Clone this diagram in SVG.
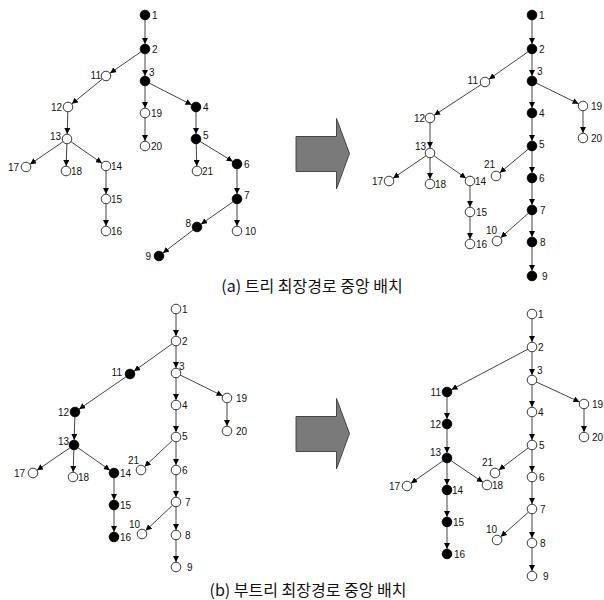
<svg xmlns="http://www.w3.org/2000/svg" width="604" height="600" viewBox="0 0 604 600">
<style>
  .bg { fill: #ffffff; }
  .edge { stroke: #444; stroke-width: 1; fill: none; marker-end: url(#head); }
  .node circle { stroke: #222; stroke-width: 0.9; fill: #ffffff; }
  .node.on circle { fill: #000000; stroke: #000000; }
  .node text { font-family: "Liberation Sans Narrow", "Liberation Sans", Arial, sans-serif; font-size: 10px; fill: #111; }
  .node text.l { text-anchor: end; }
  .caption { font-family: "Noto Sans CJK KR", "Liberation Sans", sans-serif; font-size: 16px; fill: #111; text-anchor: middle; }
  .bigarrow { fill: #7a7a7a; stroke: #3a3a3a; stroke-width: 0.9; }
</style>
<defs>
  <marker id="head" markerUnits="userSpaceOnUse" viewBox="0 0 12 6" refX="11" refY="3" markerWidth="12" markerHeight="6" orient="auto">
    <path d="M0,0 L6,3 L0,6 z" fill="#000"/>
  </marker>
</defs>
<rect class="bg" x="0" y="0" width="604" height="600"/>

<!-- connectors -->
<g id="edges">
  <!-- (a) left tree -->
  <line class="edge" x1="145" y1="15" x2="145" y2="49"/>
  <line class="edge" x1="145" y1="49" x2="106" y2="76"/>
  <line class="edge" x1="145" y1="49" x2="145" y2="81"/>
  <line class="edge" x1="106" y1="76" x2="68" y2="107"/>
  <line class="edge" x1="145" y1="81" x2="145" y2="113"/>
  <line class="edge" x1="145" y1="81" x2="196" y2="107"/>
  <line class="edge" x1="68" y1="107" x2="67" y2="139"/>
  <line class="edge" x1="145" y1="113" x2="145" y2="146"/>
  <line class="edge" x1="196" y1="107" x2="196" y2="139"/>
  <line class="edge" x1="67" y1="139" x2="26" y2="167"/>
  <line class="edge" x1="67" y1="139" x2="66" y2="171"/>
  <line class="edge" x1="67" y1="139" x2="106" y2="166"/>
  <line class="edge" x1="196" y1="139" x2="197" y2="171"/>
  <line class="edge" x1="196" y1="139" x2="237" y2="164"/>
  <line class="edge" x1="106" y1="166" x2="106" y2="199"/>
  <line class="edge" x1="237" y1="164" x2="237" y2="199"/>
  <line class="edge" x1="106" y1="199" x2="106" y2="231"/>
  <line class="edge" x1="237" y1="199" x2="197" y2="227"/>
  <line class="edge" x1="237" y1="199" x2="237" y2="231"/>
  <line class="edge" x1="197" y1="227" x2="159" y2="256"/>
  <!-- (a) right tree -->
  <line class="edge" x1="532" y1="15" x2="532" y2="49"/>
  <line class="edge" x1="532" y1="49" x2="485" y2="82"/>
  <line class="edge" x1="532" y1="49" x2="532" y2="81"/>
  <line class="edge" x1="532" y1="81" x2="583" y2="106"/>
  <line class="edge" x1="532" y1="81" x2="532" y2="113"/>
  <line class="edge" x1="485" y1="82" x2="430" y2="118"/>
  <line class="edge" x1="583" y1="106" x2="583" y2="138"/>
  <line class="edge" x1="532" y1="113" x2="532" y2="146"/>
  <line class="edge" x1="430" y1="118" x2="430" y2="153"/>
  <line class="edge" x1="532" y1="146" x2="496" y2="176"/>
  <line class="edge" x1="532" y1="146" x2="532" y2="178"/>
  <line class="edge" x1="430" y1="153" x2="389" y2="181"/>
  <line class="edge" x1="430" y1="153" x2="430" y2="184"/>
  <line class="edge" x1="430" y1="153" x2="470" y2="181"/>
  <line class="edge" x1="470" y1="181" x2="470" y2="212"/>
  <line class="edge" x1="532" y1="178" x2="532" y2="210"/>
  <line class="edge" x1="532" y1="210" x2="497" y2="241"/>
  <line class="edge" x1="532" y1="210" x2="532" y2="242"/>
  <line class="edge" x1="470" y1="212" x2="470" y2="244"/>
  <line class="edge" x1="532" y1="242" x2="532" y2="276"/>
  <!-- (b) left tree -->
  <line class="edge" x1="176" y1="309" x2="176" y2="341"/>
  <line class="edge" x1="176" y1="341" x2="130" y2="374"/>
  <line class="edge" x1="176" y1="341" x2="176" y2="373"/>
  <line class="edge" x1="176" y1="373" x2="227" y2="398"/>
  <line class="edge" x1="176" y1="373" x2="176" y2="405"/>
  <line class="edge" x1="130" y1="374" x2="75" y2="412"/>
  <line class="edge" x1="227" y1="398" x2="227" y2="431"/>
  <line class="edge" x1="176" y1="405" x2="176" y2="437"/>
  <line class="edge" x1="75" y1="412" x2="74" y2="445"/>
  <line class="edge" x1="176" y1="437" x2="141" y2="470"/>
  <line class="edge" x1="176" y1="437" x2="176" y2="470"/>
  <line class="edge" x1="74" y1="445" x2="33" y2="473"/>
  <line class="edge" x1="74" y1="445" x2="73" y2="477"/>
  <line class="edge" x1="74" y1="445" x2="114" y2="473"/>
  <line class="edge" x1="114" y1="473" x2="114" y2="505"/>
  <line class="edge" x1="176" y1="470" x2="176" y2="502"/>
  <line class="edge" x1="176" y1="502" x2="142" y2="534"/>
  <line class="edge" x1="176" y1="502" x2="176" y2="535"/>
  <line class="edge" x1="114" y1="505" x2="114" y2="537"/>
  <line class="edge" x1="176" y1="535" x2="176" y2="567"/>
  <!-- (b) right tree -->
  <line class="edge" x1="532" y1="314" x2="532" y2="347"/>
  <line class="edge" x1="532" y1="347" x2="447" y2="392"/>
  <line class="edge" x1="532" y1="347" x2="532" y2="380"/>
  <line class="edge" x1="532" y1="380" x2="584" y2="404"/>
  <line class="edge" x1="532" y1="380" x2="532" y2="412"/>
  <line class="edge" x1="447" y1="392" x2="447" y2="424"/>
  <line class="edge" x1="584" y1="404" x2="584" y2="437"/>
  <line class="edge" x1="532" y1="412" x2="532" y2="445"/>
  <line class="edge" x1="447" y1="424" x2="447" y2="458"/>
  <line class="edge" x1="532" y1="445" x2="495" y2="473"/>
  <line class="edge" x1="532" y1="445" x2="532" y2="477"/>
  <line class="edge" x1="447" y1="458" x2="407" y2="486"/>
  <line class="edge" x1="447" y1="458" x2="447" y2="490"/>
  <line class="edge" x1="447" y1="458" x2="487" y2="485"/>
  <line class="edge" x1="447" y1="490" x2="447" y2="522"/>
  <line class="edge" x1="532" y1="477" x2="532" y2="509"/>
  <line class="edge" x1="532" y1="509" x2="497" y2="540"/>
  <line class="edge" x1="532" y1="509" x2="532" y2="543"/>
  <line class="edge" x1="447" y1="522" x2="447" y2="554"/>
  <line class="edge" x1="532" y1="543" x2="532" y2="576"/>
</g>

<!-- (a) left tree nodes -->
<g id="a1-n1" class="node on"><circle cx="145" cy="15" r="4.8"/><text x="152" y="18.5">1</text></g>
<g id="a1-n2" class="node on"><circle cx="145" cy="49" r="4.8"/><text x="152" y="52.5">2</text></g>
<g id="a1-n3" class="node on"><circle cx="145" cy="81" r="4.8"/><text x="149" y="75.5">3</text></g>
<g id="a1-n11" class="node"><circle cx="106" cy="76" r="4.8"/><text class="l" x="101" y="79">11</text></g>
<g id="a1-n12" class="node"><circle cx="68" cy="107" r="4.8"/><text class="l" x="62" y="110.5">12</text></g>
<g id="a1-n19" class="node"><circle cx="145" cy="113" r="4.8"/><text x="151" y="116.5">19</text></g>
<g id="a1-n4" class="node on"><circle cx="196" cy="107" r="4.8"/><text x="203" y="110.5">4</text></g>
<g id="a1-n13" class="node"><circle cx="67" cy="139" r="4.8"/><text class="l" x="61" y="140">13</text></g>
<g id="a1-n20" class="node"><circle cx="145" cy="146" r="4.8"/><text x="151" y="149.5">20</text></g>
<g id="a1-n5" class="node on"><circle cx="196" cy="139" r="4.8"/><text x="203" y="138.5">5</text></g>
<g id="a1-n17" class="node"><circle cx="26" cy="167" r="4.8"/><text class="l" x="19" y="170.5">17</text></g>
<g id="a1-n18" class="node"><circle cx="66" cy="171" r="4.8"/><text x="71" y="174.5">18</text></g>
<g id="a1-n14" class="node"><circle cx="106" cy="166" r="4.8"/><text x="111" y="169.5">14</text></g>
<g id="a1-n21" class="node"><circle cx="197" cy="171" r="4.8"/><text x="202" y="174.5">21</text></g>
<g id="a1-n6" class="node on"><circle cx="237" cy="164" r="4.8"/><text x="244" y="167.5">6</text></g>
<g id="a1-n15" class="node"><circle cx="106" cy="199" r="4.8"/><text x="111" y="202.5">15</text></g>
<g id="a1-n7" class="node on"><circle cx="237" cy="199" r="4.8"/><text x="244" y="198.5">7</text></g>
<g id="a1-n16" class="node"><circle cx="106" cy="231" r="4.8"/><text x="111" y="234.5">16</text></g>
<g id="a1-n8" class="node on"><circle cx="197" cy="227" r="4.8"/><text class="l" x="191" y="226.5">8</text></g>
<g id="a1-n10" class="node"><circle cx="237" cy="231" r="4.8"/><text x="245" y="234.5">10</text></g>
<g id="a1-n9" class="node on"><circle cx="159" cy="256" r="4.8"/><text class="l" x="151" y="259.5">9</text></g>

<!-- (a) right tree nodes -->
<g id="a2-n1" class="node on"><circle cx="532" cy="15" r="4.8"/><text x="539" y="18.5">1</text></g>
<g id="a2-n2" class="node on"><circle cx="532" cy="49" r="4.8"/><text x="539" y="52.5">2</text></g>
<g id="a2-n3" class="node on"><circle cx="532" cy="81" r="4.8"/><text x="537" y="74.5">3</text></g>
<g id="a2-n11" class="node"><circle cx="485" cy="82" r="4.8"/><text class="l" x="478" y="83.5">11</text></g>
<g id="a2-n19" class="node"><circle cx="583" cy="106" r="4.8"/><text x="591" y="109.5">19</text></g>
<g id="a2-n4" class="node on"><circle cx="532" cy="113" r="4.8"/><text x="539" y="116.5">4</text></g>
<g id="a2-n12" class="node"><circle cx="430" cy="118" r="4.8"/><text class="l" x="425" y="121.5">12</text></g>
<g id="a2-n20" class="node"><circle cx="583" cy="138" r="4.8"/><text x="591" y="141.5">20</text></g>
<g id="a2-n5" class="node on"><circle cx="532" cy="146" r="4.8"/><text x="539" y="147.5">5</text></g>
<g id="a2-n13" class="node"><circle cx="430" cy="153" r="4.8"/><text class="l" x="426" y="149.5">13</text></g>
<g id="a2-n21" class="node"><circle cx="496" cy="176" r="4.8"/><text class="l" x="495" y="167.5">21</text></g>
<g id="a2-n6" class="node on"><circle cx="532" cy="178" r="4.8"/><text x="539" y="181.5">6</text></g>
<g id="a2-n17" class="node"><circle cx="389" cy="181" r="4.8"/><text class="l" x="383" y="184.5">17</text></g>
<g id="a2-n18" class="node"><circle cx="430" cy="184" r="4.8"/><text x="435" y="187.5">18</text></g>
<g id="a2-n14" class="node"><circle cx="470" cy="181" r="4.8"/><text x="475" y="184.5">14</text></g>
<g id="a2-n15" class="node"><circle cx="470" cy="212" r="4.8"/><text x="476" y="215.5">15</text></g>
<g id="a2-n7" class="node on"><circle cx="532" cy="210" r="4.8"/><text x="540" y="213.5">7</text></g>
<g id="a2-n10" class="node"><circle cx="497" cy="241" r="4.8"/><text class="l" x="497" y="233.5">10</text></g>
<g id="a2-n8" class="node on"><circle cx="532" cy="242" r="4.8"/><text x="540" y="245.5">8</text></g>
<g id="a2-n16" class="node"><circle cx="470" cy="244" r="4.8"/><text x="476" y="247.5">16</text></g>
<g id="a2-n9" class="node on"><circle cx="532" cy="276" r="4.8"/><text x="542" y="279.5">9</text></g>

<!-- (b) left tree nodes -->
<g id="b1-n1" class="node"><circle cx="176" cy="309" r="4.8"/><text x="182" y="312.5">1</text></g>
<g id="b1-n2" class="node"><circle cx="176" cy="341" r="4.8"/><text x="182" y="344.5">2</text></g>
<g id="b1-n3" class="node"><circle cx="176" cy="373" r="4.8"/><text x="179" y="369.5">3</text></g>
<g id="b1-n11" class="node on"><circle cx="130" cy="374" r="4.8"/><text class="l" x="122" y="375.5">11</text></g>
<g id="b1-n19" class="node"><circle cx="227" cy="398" r="4.8"/><text x="236" y="401.5">19</text></g>
<g id="b1-n4" class="node"><circle cx="176" cy="405" r="4.8"/><text x="182" y="408.5">4</text></g>
<g id="b1-n12" class="node on"><circle cx="75" cy="412" r="4.8"/><text class="l" x="69" y="415.5">12</text></g>
<g id="b1-n20" class="node"><circle cx="227" cy="431" r="4.8"/><text x="236" y="434.5">20</text></g>
<g id="b1-n5" class="node"><circle cx="176" cy="437" r="4.8"/><text x="182" y="439.5">5</text></g>
<g id="b1-n13" class="node on"><circle cx="74" cy="445" r="4.8"/><text class="l" x="69" y="444.5">13</text></g>
<g id="b1-n21" class="node"><circle cx="141" cy="470" r="4.8"/><text class="l" x="139" y="463.5">21</text></g>
<g id="b1-n6" class="node"><circle cx="176" cy="470" r="4.8"/><text x="182" y="473.5">6</text></g>
<g id="b1-n17" class="node"><circle cx="33" cy="473" r="4.8"/><text class="l" x="25" y="476.5">17</text></g>
<g id="b1-n18" class="node"><circle cx="73" cy="477" r="4.8"/><text x="78" y="480.5">18</text></g>
<g id="b1-n14" class="node on"><circle cx="114" cy="473" r="4.8"/><text x="120" y="476.5">14</text></g>
<g id="b1-n15" class="node on"><circle cx="114" cy="505" r="4.8"/><text x="120" y="508.5">15</text></g>
<g id="b1-n7" class="node"><circle cx="176" cy="502" r="4.8"/><text x="185" y="505.5">7</text></g>
<g id="b1-n10" class="node"><circle cx="142" cy="534" r="4.8"/><text class="l" x="140" y="527.5">10</text></g>
<g id="b1-n8" class="node"><circle cx="176" cy="535" r="4.8"/><text x="185" y="538.5">8</text></g>
<g id="b1-n16" class="node on"><circle cx="114" cy="537" r="4.8"/><text x="120" y="540.5">16</text></g>
<g id="b1-n9" class="node"><circle cx="176" cy="567" r="4.8"/><text x="187" y="570.5">9</text></g>

<!-- (b) right tree nodes -->
<g id="b2-n1" class="node"><circle cx="532" cy="314" r="4.8"/><text x="538" y="317.5">1</text></g>
<g id="b2-n2" class="node"><circle cx="532" cy="347" r="4.8"/><text x="538" y="350.5">2</text></g>
<g id="b2-n3" class="node"><circle cx="532" cy="380" r="4.8"/><text x="537" y="373.5">3</text></g>
<g id="b2-n11" class="node on"><circle cx="447" cy="392" r="4.8"/><text class="l" x="441" y="395.5">11</text></g>
<g id="b2-n19" class="node"><circle cx="584" cy="404" r="4.8"/><text x="592" y="407.5">19</text></g>
<g id="b2-n4" class="node"><circle cx="532" cy="412" r="4.8"/><text x="538" y="415.5">4</text></g>
<g id="b2-n12" class="node on"><circle cx="447" cy="424" r="4.8"/><text class="l" x="441" y="427.5">12</text></g>
<g id="b2-n20" class="node"><circle cx="584" cy="437" r="4.8"/><text x="592" y="440.5">20</text></g>
<g id="b2-n5" class="node"><circle cx="532" cy="445" r="4.8"/><text x="539" y="448.5">5</text></g>
<g id="b2-n13" class="node on"><circle cx="447" cy="458" r="4.8"/><text class="l" x="441" y="455.5">13</text></g>
<g id="b2-n21" class="node"><circle cx="495" cy="473" r="4.8"/><text class="l" x="493" y="465.5">21</text></g>
<g id="b2-n6" class="node"><circle cx="532" cy="477" r="4.8"/><text x="539" y="480.5">6</text></g>
<g id="b2-n17" class="node"><circle cx="407" cy="486" r="4.8"/><text class="l" x="400" y="489.5">17</text></g>
<g id="b2-n18" class="node"><circle cx="487" cy="485" r="4.8"/><text x="492" y="488.5">18</text></g>
<g id="b2-n14" class="node on"><circle cx="447" cy="490" r="4.8"/><text x="452" y="493.5">14</text></g>
<g id="b2-n15" class="node on"><circle cx="447" cy="522" r="4.8"/><text x="453" y="525.5">15</text></g>
<g id="b2-n7" class="node"><circle cx="532" cy="509" r="4.8"/><text x="540" y="512.5">7</text></g>
<g id="b2-n10" class="node"><circle cx="497" cy="540" r="4.8"/><text class="l" x="497" y="532.5">10</text></g>
<g id="b2-n8" class="node"><circle cx="532" cy="543" r="4.8"/><text x="540" y="546.5">8</text></g>
<g id="b2-n16" class="node on"><circle cx="447" cy="554" r="4.8"/><text x="454" y="557.5">16</text></g>
<g id="b2-n9" class="node"><circle cx="532" cy="576" r="4.8"/><text x="543" y="579.5">9</text></g>

<!-- block arrows between the before/after trees -->
<polygon class="bigarrow" points="296,136.5 336.5,136.5 336.5,118.5 349.5,153.5 336.5,189 336.5,171.5 296,171.5"/>
<polygon class="bigarrow" points="296,416.5 336.5,416.5 336.5,398.5 349.5,433.5 336.5,469 336.5,451.5 296,451.5"/>

<!-- captions -->
<text class="caption" x="312" y="292">(a) 트리 최장경로 중앙 배치</text>
<text class="caption" x="308" y="596">(b) 부트리 최장경로 중앙 배치</text>
</svg>
